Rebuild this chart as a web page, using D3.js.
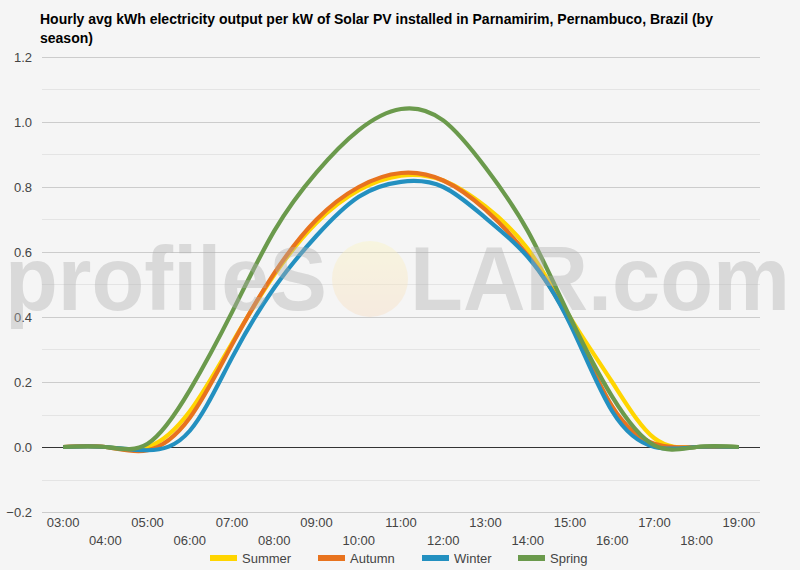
<!DOCTYPE html>
<html lang="en">
<head>
<meta charset="utf-8" />
<script src="https://cdn.jsdelivr.net/npm/d3@7"></script>
<style>
    body { margin: 0; background: #f5f5f5; }
    text { font-family: Arial, "Liberation Sans", sans-serif; }
    .tick-label { font-size: 13px; fill: #444; }
    .title { font-size: 14px; font-weight: bold; fill: #000; }
</style>
</head>
<body>
<script>
var hours = ["03:00", "04:00", "05:00", "06:00", "07:00", "08:00", "09:00", "10:00", "11:00",
             "12:00", "13:00", "14:00", "15:00", "16:00", "17:00", "18:00", "19:00"];

var summer = [0, 0, 0.0, 0.11, 0.32, 0.53, 0.69, 0.79, 0.835, 0.82, 0.74, 0.61, 0.40, 0.20, 0.027, 0, 0];
var autumn = [0, 0, -0.01, 0.09, 0.315, 0.535, 0.70, 0.80, 0.843, 0.82, 0.73, 0.59, 0.385, 0.125, 0.01, 0, 0];
var winter = [0, 0, -0.01, 0.05, 0.275, 0.49, 0.65, 0.77, 0.816, 0.80, 0.705, 0.585, 0.38, 0.11, 0.0, 0, 0];
var spring = [0, 0, 0.01, 0.175, 0.415, 0.665, 0.845, 0.975, 1.04, 1.005, 0.86, 0.665, 0.40, 0.155, 0.005, 0, 0];

var seriesNames = ["Summer", "Autumn", "Winter", "Spring"];
var seriesColors = ["#ffd500", "#e8731e", "#2390c0", "#6b9a4c"];
var seriesData = [summer, autumn, winter, spring];

var yTicks = [-0.2, 0, 0.2, 0.4, 0.6, 0.8, 1.0, 1.2];

var width = 800, height = 570;
var plotLeft = 42, plotRight = 760, plotTop = 57, plotBottom = 512;

var svg = d3.select("body").append("svg")
    .attr("width", width)
    .attr("height", height);

svg.append("rect").attr("width", width).attr("height", height).attr("fill", "#f5f5f5");

var x = d3.scalePoint().domain(hours).range([plotLeft, plotRight]).padding(0.5);
var y = d3.scaleLinear().domain([-0.2, 1.2]).range([plotBottom, plotTop]);

// title
svg.append("text").attr("class", "title").attr("x", 40).attr("y", 24)
    .text("Hourly avg kWh electricity output per kW of Solar PV installed in Parnamirim, Pernambuco, Brazil (by");
svg.append("text").attr("class", "title").attr("x", 40).attr("y", 43)
    .text("season)");

// minor grid
var minor = d3.range(-0.1, 1.2, 0.2);
svg.append("g").selectAll("line").data(minor).join("line")
    .attr("x1", plotLeft).attr("x2", plotRight)
    .attr("y1", d => Math.round(y(d)) + 0.5).attr("y2", d => Math.round(y(d)) + 0.5)
    .attr("stroke", "#e4e4e4");

// major grid + labels
var yAxis = svg.append("g");
yAxis.selectAll("line").data(yTicks).join("line")
    .attr("x1", plotLeft).attr("x2", plotRight)
    .attr("y1", d => Math.round(y(d)) + 0.5).attr("y2", d => Math.round(y(d)) + 0.5)
    .attr("stroke", d => d === 0 ? "#333" : "#cccccc");
yAxis.selectAll("text").data(yTicks).join("text")
    .attr("class", "tick-label")
    .attr("x", 32).attr("y", d => y(d) + 5)
    .attr("text-anchor", "end")
    .text(d => d3.format(".1f")(d));

// x labels, two staggered rows
svg.append("g").selectAll("text").data(hours).join("text")
    .attr("class", "tick-label")
    .attr("x", d => x(d))
    .attr("y", (d, i) => i % 2 === 0 ? 527 : 545)
    .attr("text-anchor", "middle")
    .text(d => d);

// lines
var line = d3.line()
    .x((d, i) => x(hours[i]))
    .y(d => y(d))
    .curve(d3.curveNatural);

svg.append("g").selectAll("path").data(seriesData).join("path")
    .attr("d", line)
    .attr("fill", "none")
    .attr("stroke", (d, i) => seriesColors[i])
    .attr("stroke-width", 4.2)
    .attr("stroke-linejoin", "round");

// watermark
var defs = svg.append("defs");
var grad = defs.append("linearGradient").attr("id", "sun").attr("x1", 0).attr("y1", 0).attr("x2", 0).attr("y2", 1);
grad.append("stop").attr("offset", "0%").attr("stop-color", "#fbf5c0");
grad.append("stop").attr("offset", "100%").attr("stop-color", "#f8dcc0");

var wm = svg.append("g").attr("opacity", 0.4).style("pointer-events", "none");
wm.append("circle").attr("cx", 370).attr("cy", 279).attr("r", 38).attr("fill", "url(#sun)");
wm.append("text").attr("x", 5).attr("y", 310)
    .attr("font-size", 90).attr("font-weight", "bold").attr("fill", "#b0b0b0")
    .attr("textLength", 322).attr("lengthAdjust", "spacingAndGlyphs")
    .text("profileS");
wm.append("text").attr("x", 410).attr("y", 310)
    .attr("font-size", 90).attr("font-weight", "bold").attr("fill", "#b0b0b0")
    .attr("textLength", 380).attr("lengthAdjust", "spacingAndGlyphs")
    .text("LAR.com");

// legend
var legendX = [210, 318, 422, 518];
var legend = svg.append("g").selectAll("g").data(seriesNames).join("g")
    .attr("transform", (d, i) => "translate(" + legendX[i] + ",558)");
legend.append("rect").attr("x", 0).attr("y", -3).attr("width", 27).attr("height", 6)
    .attr("fill", (d, i) => seriesColors[i]);
legend.append("text").attr("class", "tick-label").attr("x", 32).attr("y", 5).text(d => d);
</script>
</body>
</html>
